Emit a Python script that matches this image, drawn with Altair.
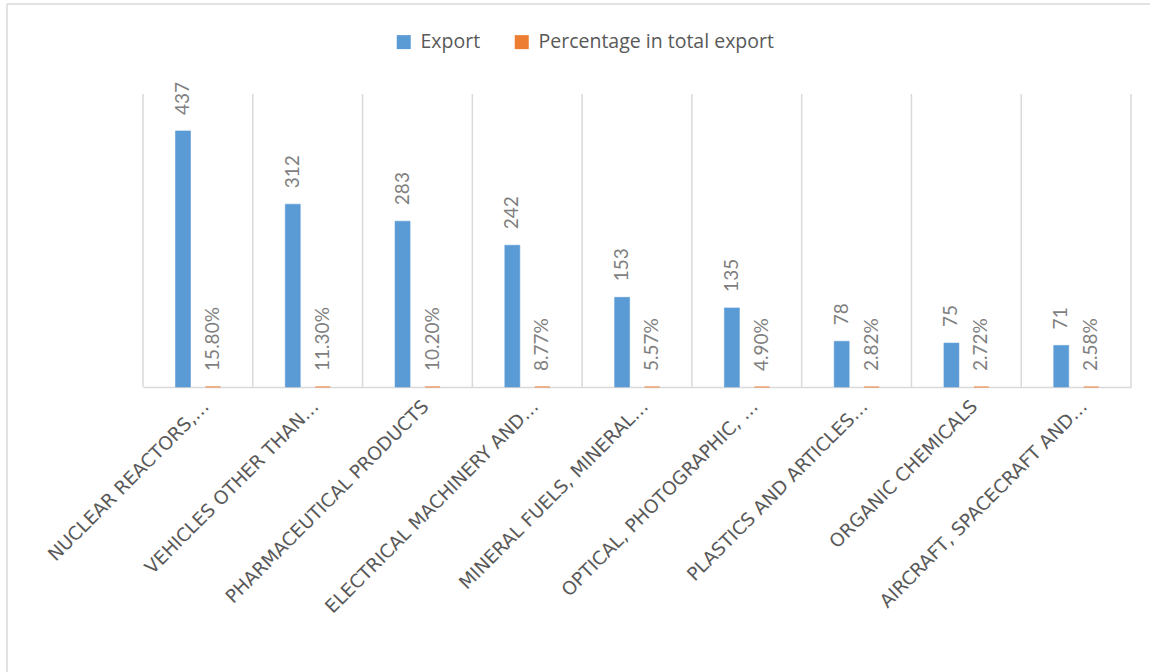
import altair as alt
import pandas as pd

categories = [
    "NUCLEAR REACTORS,…",
    "VEHICLES OTHER THAN…",
    "PHARMACEUTICAL  PRODUCTS",
    "ELECTRICAL MACHINERY  AND…",
    "MINERAL FUELS, MINERAL…",
    "OPTICAL, PHOTOGRAPHIC, …",
    "PLASTICS AND ARTICLES…",
    "ORGANIC CHEMICALS",
    "AIRCRAFT, SPACECRAFT AND…",
]
export_values = [437, 312, 283, 242, 153, 135, 78, 75, 71]
share_values = [0.158, 0.113, 0.102, 0.0877, 0.0557, 0.049, 0.0282, 0.0272, 0.0258]
series_names = ["Export", "Percentage in total export"]
series_colors = ["#5B9BD5", "#ED7D31"]

rows = []
for c, e, s in zip(categories, export_values, share_values):
    rows.append({"cat": c, "series": series_names[0], "value": e, "label": f"{e}"})
    rows.append({"cat": c, "series": series_names[1], "value": s, "label": f"{s * 100:.2f}%"})
df = pd.DataFrame(rows)
cats_df = pd.DataFrame({"cat": categories})
one_df = pd.DataFrame({"k": [0]})

W, H = 988, 293
PAD_L, PAD_T = 143, 94

x_scale = alt.Scale(domain=categories, paddingInner=0, paddingOuter=0)
xo_scale = alt.Scale(domain=series_names, range=[25, 85], paddingInner=0.5, paddingOuter=0.25)
y_scale = alt.Scale(domain=[0, 500], nice=False, zero=True)
color_scale = alt.Scale(domain=series_names, range=series_colors)

x_axis = alt.Axis(
    title=None, labelAngle=-45, labelAlign="right", labelBaseline="middle",
    labelFont="DejaVu Sans", labelFontSize=18.5, labelColor="#595959",
    ticks=False, domainColor="#D9D9D9", domainWidth=1.5, labelPadding=16,
    labelOffset=8, grid=False, labelLimit=500,
)

grid = alt.Chart(cats_df).mark_rule(color="#D9D9D9", strokeWidth=1.5).encode(
    x=alt.X("cat:N", scale=x_scale, axis=x_axis, bandPosition=0, sort=categories),
    y=alt.value(0), y2=alt.value(H),
)
end_rule = alt.Chart(one_df).mark_rule(color="#D9D9D9", strokeWidth=1.5).encode(
    x=alt.value(W), y=alt.value(0), y2=alt.value(H),
)
frame_left = alt.Chart(one_df).mark_rule(color="#D9D9D9", strokeWidth=1.5).encode(
    x=alt.value(7 - PAD_L), y=alt.value(4 - PAD_T), y2=alt.value(700),
)
frame_top = alt.Chart(one_df).mark_rule(color="#D9D9D9", strokeWidth=1.5).encode(
    x=alt.value(7 - PAD_L), x2=alt.value(1200), y=alt.value(4 - PAD_T),
)

bars = alt.Chart(df).mark_bar(strokeWidth=1, strokeOpacity=0.55).encode(
    x=alt.X("cat:N", scale=x_scale, axis=x_axis, sort=categories),
    xOffset=alt.XOffset("series:N", scale=xo_scale, sort=series_names),
    y=alt.Y("value:Q", scale=y_scale, axis=None),
    color=alt.Color(
        "series:N", scale=color_scale, sort=series_names,
        legend=alt.Legend(
            title=None, orient="none", legendX=251, legendY=-62,
            direction="horizontal", symbolType="square", symbolSize=196,
            symbolStrokeWidth=0, labelFont="Open Sans", labelFontSize=19.5,
            labelColor="#595959", labelOffset=7, columnPadding=31, padding=0,
            labelLimit=500,
        ),
    ),
    stroke=alt.Stroke("series:N", scale=color_scale, legend=None),
)

labels = alt.Chart(df).mark_text(
    angle=270, align="left", baseline="middle", dx=16,
    font="Lato", fontSize=19, color="#7F7F7F",
).encode(
    x=alt.X("cat:N", scale=x_scale, axis=x_axis, sort=categories),
    xOffset=alt.XOffset("series:N", scale=xo_scale, sort=series_names),
    y=alt.Y("value:Q", scale=y_scale, axis=None),
    text="label:N",
)

chart = alt.layer(frame_left, frame_top, grid, end_rule, bars, labels).properties(
    width=W, height=H,
    padding={"left": PAD_L, "top": PAD_T, "right": 1150 - PAD_L - W, "bottom": 672 - PAD_T - H},
    autosize=alt.AutoSizeParams(type="none"),
    background="white",
).configure_view(stroke=None)

chart.save("out.html", embed_options={"renderer": "svg", "actions": False})
